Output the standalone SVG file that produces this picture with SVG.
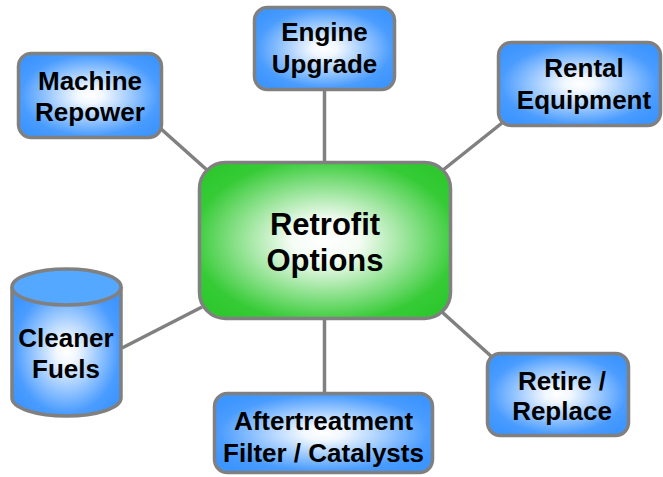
<svg xmlns="http://www.w3.org/2000/svg" width="663" height="477" viewBox="0 0 663 477">
<defs>
<radialGradient id="gBlue" cx="0.5" cy="0.5" r="0.6">
<stop offset="0" stop-color="#ffffff"/>
<stop offset="0.15" stop-color="#f2f8ff"/>
<stop offset="0.8" stop-color="#4a9cff"/>
<stop offset="1" stop-color="#3d95ff"/>
</radialGradient>
<radialGradient id="gGreen" cx="0.5" cy="0.5" r="0.62">
<stop offset="0" stop-color="#ffffff"/>
<stop offset="0.22" stop-color="#f4fcf4"/>
<stop offset="0.85" stop-color="#36cb36"/>
<stop offset="1" stop-color="#2ec82e"/>
</radialGradient>
<style>
.box{stroke:#808080;stroke-width:3.5;fill:url(#gBlue)}
.center{stroke:#808080;stroke-width:3.5;fill:url(#gGreen)}
.lbl{font-family:"Liberation Sans",Arial,sans-serif;font-weight:bold;font-size:26px;fill:#000;text-anchor:middle}
.big{font-size:31px}
.conn line{stroke:#808080;stroke-width:3.5}
</style>
</defs>
<rect width="663" height="477" fill="#ffffff"/>
<g class="conn" id="connectors">
<line x1="324.5" y1="90" x2="324.5" y2="163"/>
<line x1="160" y1="128" x2="207" y2="170"/>
<line x1="502" y1="123" x2="443" y2="170"/>
<line x1="442" y1="312" x2="492" y2="357"/>
<line x1="324.5" y1="319" x2="324.5" y2="394"/>
<line x1="122" y1="348" x2="202" y2="307"/>
</g>
<g id="retrofit">
<rect class="center" x="199.5" y="162.5" width="251" height="156" rx="26"/>
<text class="lbl big" x="325" y="235">Retrofit</text>
<text class="lbl big" x="325" y="271">Options</text>
</g>
<g id="engine">
<rect class="box" x="254.5" y="7.5" width="140" height="82" rx="13"/>
<text class="lbl" x="324.5" y="41">Engine</text>
<text class="lbl" x="324.5" y="73">Upgrade</text>
</g>
<g id="machine">
<rect class="box" x="18.5" y="53.5" width="143" height="84" rx="13"/>
<text class="lbl" x="90" y="90">Machine</text>
<text class="lbl" x="90" y="121">Repower</text>
</g>
<g id="rental">
<rect class="box" x="498.5" y="42.5" width="162" height="83" rx="13"/>
<text class="lbl" x="584" y="77">Rental</text>
<text class="lbl" x="584" y="109">Equipment</text>
</g>
<g id="retire">
<rect class="box" x="487.5" y="353.5" width="141" height="82" rx="13"/>
<text class="lbl" x="562" y="390">Retire /</text>
<text class="lbl" x="562" y="420">Replace</text>
</g>
<g id="aftertreatment">
<rect class="box" x="214.5" y="393.5" width="218" height="79" rx="13"/>
<text class="lbl" x="323.5" y="430">Aftertreatment</text>
<text class="lbl" x="323.5" y="462">Filter / Catalysts</text>
</g>
<g id="cleaner">
<path class="box" d="M12,287 L12,398 A54.5,18 0 0 0 121,398 L121,287"/>
<ellipse cx="66.5" cy="287" rx="54.5" ry="18" fill="#55a8ff" stroke="#808080" stroke-width="3.5"/>
<text class="lbl" x="66" y="347">Cleaner</text>
<text class="lbl" x="66" y="378">Fuels</text>
</g>
</svg>
